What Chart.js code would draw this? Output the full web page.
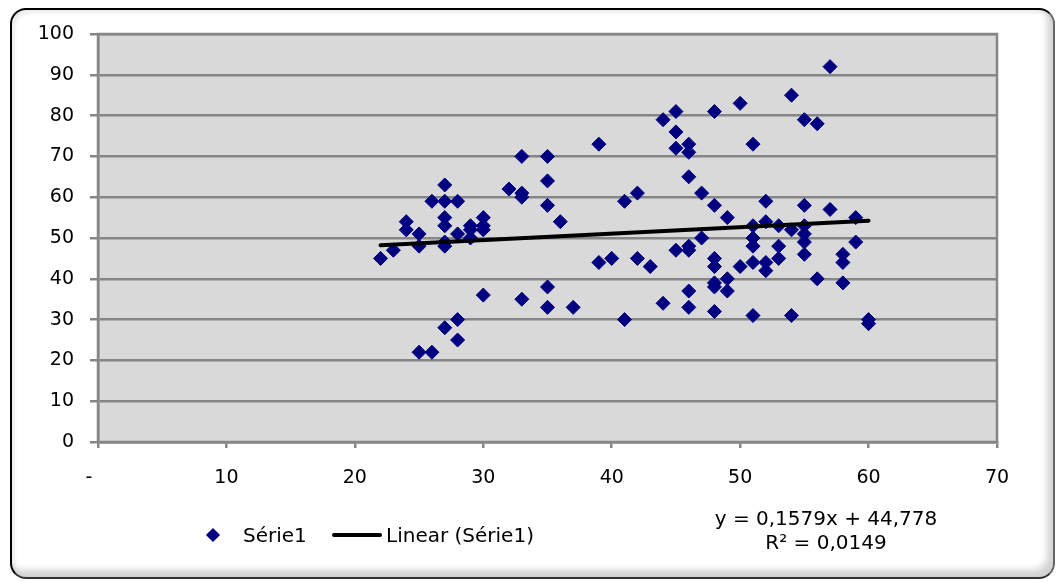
<!DOCTYPE html>
<html>
<head>
<meta charset="utf-8">
<script src="https://cdn.jsdelivr.net/npm/chart.js@4"></script>
<style>
  html, body { margin: 0; padding: 0; background: #fff; }
  #wrap { position: relative; width: 1058px; height: 582px; overflow: hidden; font-family: "DejaVu Sans", sans-serif; }
  #frame { position: absolute; left: 10px; top: 8px; width: 1041px; height: 567px;
    border-top: 2px solid #000; border-left: 2px solid #000; border-right: 2px solid #666; border-bottom: 2px solid #333;
    border-radius: 16px;
    box-shadow: inset -6px -7px 7px rgba(0,0,0,0.18), inset 3px 3px 4px rgba(0,0,0,0.08); }
  canvas { position: absolute; left: 0; top: 0; }
  .lg { position: absolute; font-size: 20px; color: #000; line-height: 24px; white-space: nowrap; }
  #diamond { position: absolute; left: 208px; top: 530px; width: 10px; height: 10px; background: #000080; transform: rotate(45deg); }
  #lline { position: absolute; left: 332px; top: 533px; width: 50px; height: 4px; background: #000; border-radius: 2px; }
  .eq { position: absolute; left: 676px; width: 300px; text-align: center; font-size: 20px; line-height: 24px; color: #000; white-space: nowrap; }
</style>
</head>
<body>
<div id="wrap">
  <div id="frame"></div>
  <canvas id="c" width="1058" height="582"></canvas>
  <div id="diamond"></div>
  <div class="lg" style="left:243px; top:523px;">Série1</div>
  <div id="lline"></div>
  <div class="lg" style="left:386px; top:523px;">Linear (Série1)</div>
  <div class="eq" style="top:506px;">y = 0,1579x + 44,778</div>
  <div class="eq" style="top:530px;">R² = 0,0149</div>
</div>
<script>
// Data
const xValues = [22,23,24,24,25,25,25,26,26,27,27,27,27,27,27,27,28,28,28,28,29,29,29,30,30,30,30,32,33,33,33,33,35,35,35,35,35,36,37,39,39,40,41,41,42,42,43,44,44,45,45,45,45,46,46,46,46,46,46,46,47,47,48,48,48,48,48,48,48,49,49,49,50,50,51,51,51,51,51,51,52,52,52,52,53,53,53,54,54,54,55,55,55,55,55,55,56,56,57,57,58,58,58,59,59,60,60];
const yValues = [45,47,54,52,51,48,22,22,59,63,59,55,53,49,48,28,59,51,30,25,53,52,50,55,53,52,36,62,61,60,70,35,70,64,58,38,33,54,33,73,44,45,59,30,61,45,43,79,34,81,76,72,47,73,71,65,48,47,37,33,61,50,81,58,45,43,39,38,32,55,40,37,83,43,73,53,50,48,44,31,59,54,44,42,53,48,45,85,52,31,79,58,53,51,49,46,78,40,92,57,46,44,39,55,49,30,29];
const xTicks = [0,10,20,30,40,50,60,70];
const yTicks = [0,10,20,30,40,50,60,70,80,90,100];
const trendSlope = 0.1579;
const trendIntercept = 44.778;
const trendX = [22, 60];

const points = xValues.map((x, i) => ({ x: x, y: yValues[i] }));
const trendPoints = trendX.map(x => ({ x: x, y: trendSlope * x + trendIntercept }));

const GRID = '#868686';
const FONT = { family: 'DejaVu Sans', size: 19 };

const plotBg = {
  id: 'plotBg',
  beforeDraw(chart) {
    const a = chart.chartArea, ctx = chart.ctx;
    ctx.save();
    ctx.fillStyle = '#d9d9d9';
    ctx.fillRect(a.left, a.top, a.right - a.left, a.bottom - a.top);
    ctx.restore();
  },
  beforeDatasetsDraw(chart) {
    const a = chart.chartArea, ctx = chart.ctx;
    ctx.save();
    ctx.strokeStyle = GRID;
    ctx.lineWidth = 2.5;
    ctx.strokeRect(a.left, a.top, a.right - a.left, a.bottom - a.top);
    ctx.restore();
  }
};

new Chart(document.getElementById('c'), {
  type: 'scatter',
  data: {
    datasets: [
      { label: 'Linear (Série1)', type: 'line', data: trendPoints, borderColor: '#000', borderWidth: 4,
        pointRadius: 0, fill: false, order: 0, borderCapStyle: 'round' },
      { label: 'Série1', data: points, pointStyle: 'rectRot', pointRadius: 7, pointHoverRadius: 7,
        backgroundColor: '#000080', borderColor: '#000080', borderWidth: 1, order: 1 }
    ]
  },
  options: {
    responsive: false,
    animation: false,
    devicePixelRatio: 1,
    layout: { padding: { top: 34, right: 61, left: 0, bottom: 0 } },
    plugins: { legend: { display: false }, tooltip: { enabled: false } },
    scales: {
      x: {
        type: 'linear', min: 0, max: 70,
        afterBuildTicks: s => { s.ticks = xTicks.map(v => ({ value: v })); },
        afterFit: s => { s.height = 140; },
        ticks: { color: '#000', font: FONT, padding: 19, maxRotation: 0,
          callback: v => v === 0 ? '-   ' : String(v) },
        grid: { drawOnChartArea: false, drawTicks: true, tickLength: 6, color: GRID, lineWidth: 2.5 },
        border: { color: GRID, width: 2.5 }
      },
      y: {
        type: 'linear', min: 0, max: 100,
        afterBuildTicks: s => { s.ticks = yTicks.map(v => ({ value: v })); },
        afterFit: s => { s.width = 98; },
        ticks: { color: '#000', font: FONT, padding: 16 },
        grid: { color: GRID, lineWidth: 2.5, tickLength: 8 },
        border: { color: GRID, width: 2.5 }
      }
    }
  },
  plugins: [plotBg]
});
</script>
</body>
</html>
